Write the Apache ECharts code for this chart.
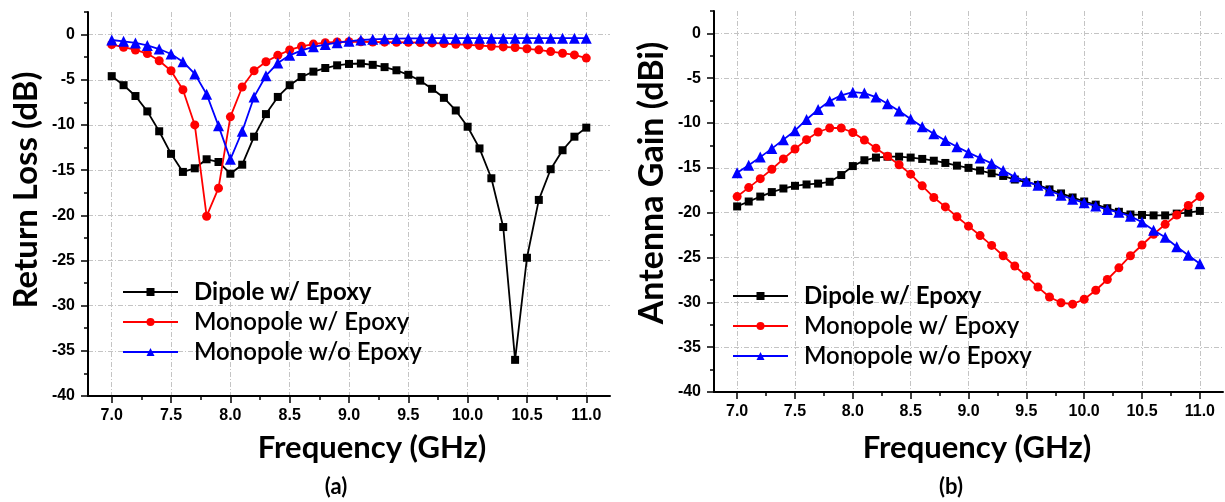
<!DOCTYPE html>
<html>
<head>
<meta charset="utf-8">
<script src="https://cdn.jsdelivr.net/npm/echarts@6/dist/echarts.min.js"></script>
<style>
  html, body { margin: 0; padding: 0; background: #fff; }
  #chart { width: 1225px; height: 502px; }
</style>
</head>
<body>
<div id="chart"></div>
<script>
// Frequency sweep (GHz)
const freq = [7.0, 7.1, 7.2, 7.3, 7.4, 7.5, 7.6, 7.7, 7.8, 7.9,
              8.0, 8.1, 8.2, 8.3, 8.4, 8.5, 8.6, 8.7, 8.8, 8.9,
              9.0, 9.1, 9.2, 9.3, 9.4, 9.5, 9.6, 9.7, 9.8, 9.9,
              10.0, 10.1, 10.2, 10.3, 10.4, 10.5, 10.6, 10.7, 10.8, 10.9, 11.0];

const seriesNames = ['Dipole w/ Epoxy', 'Monopole w/ Epoxy', 'Monopole w/o Epoxy'];

// (a) Return loss (dB)
const rlDipole = [-4.6, -5.6, -6.8, -8.5, -10.7, -13.2, -15.2, -14.8, -13.8, -14.1,
                  -15.4, -14.4, -11.3, -8.8, -6.9, -5.6, -4.7, -4.1, -3.7, -3.4,
                  -3.25, -3.2, -3.35, -3.6, -3.95, -4.45, -5.1, -6.0, -7.0, -8.4,
                  -10.2, -12.6, -15.9, -21.3, -36.0, -24.7, -18.3, -14.9, -12.8, -11.3, -10.3];
const rlMonoEpoxy = [-1.1, -1.4, -1.7, -2.1, -2.9, -4.0, -6.1, -10.0, -20.1, -17.0,
                     -9.1, -5.8, -4.0, -3.0, -2.3, -1.7, -1.3, -1.05, -0.9, -0.82,
                     -0.78, -0.8, -0.82, -0.84, -0.85, -0.86, -0.88, -0.92, -1.0, -1.07,
                     -1.14, -1.21, -1.3, -1.36, -1.43, -1.57, -1.69, -1.88, -2.06, -2.25, -2.6];
const rlMonoNoEpoxy = [-0.6, -0.75, -0.92, -1.2, -1.6, -2.15, -3.0, -4.35, -6.6, -10.1,
                       -13.8, -10.7, -6.9, -4.55, -3.15, -2.3, -1.75, -1.35, -1.1, -0.9,
                       -0.75, -0.6, -0.52, -0.47, -0.44, -0.42, -0.41, -0.4, -0.4, -0.4,
                       -0.4, -0.4, -0.4, -0.4, -0.4, -0.4, -0.4, -0.4, -0.4, -0.4, -0.4];

// (b) Antenna gain (dBi)
const gDipole = [-19.3, -18.75, -18.2, -17.7, -17.3, -17.0, -16.85, -16.75, -16.55, -15.8,
                 -14.8, -14.15, -13.85, -13.75, -13.75, -13.85, -14.0, -14.2, -14.45, -14.75,
                 -15.0, -15.3, -15.6, -15.9, -16.3, -16.6, -16.9, -17.4, -17.85, -18.3,
                 -18.75, -19.1, -19.5, -19.9, -20.2, -20.25, -20.3, -20.3, -20.1, -20.0, -19.8];
const gMonoEpoxy = [-18.2, -17.2, -16.2, -15.15, -14.0, -12.9, -11.85, -11.0, -10.55, -10.55,
                    -11.05, -11.9, -12.8, -13.7, -14.65, -15.7, -17.0, -18.3, -19.35, -20.45,
                    -21.5, -22.55, -23.65, -24.8, -25.95, -27.1, -28.3, -29.4, -30.05, -30.2,
                    -29.65, -28.65, -27.45, -26.15, -24.8, -23.6, -22.4, -21.3, -20.25, -19.2, -18.2];
const gMonoNoEpoxy = [-15.55, -14.7, -13.8, -12.85, -11.85, -10.85, -9.6, -8.5, -7.55, -6.9,
                      -6.55, -6.65, -7.1, -7.85, -8.65, -9.55, -10.4, -11.2, -11.95, -12.65,
                      -13.3, -13.9, -14.5, -15.3, -16.0, -16.5, -16.95, -17.55, -18.05, -18.5,
                      -18.9, -19.25, -19.65, -19.95, -20.4, -21.05, -21.95, -22.75, -23.8, -24.75, -25.7];

// Tick positions
const xMajorTicks = [7.0, 7.5, 8.0, 8.5, 9.0, 9.5, 10.0, 10.5, 11.0];
const xMinorTicks = [7.25, 7.75, 8.25, 8.75, 9.25, 9.75, 10.25, 10.75];
const yMajorTicks = [-40, -35, -30, -25, -20, -15, -10, -5, 0];
const yMinorTicks = [-37.5, -32.5, -27.5, -22.5, -17.5, -12.5, -7.5, -2.5, 2.5];

const X_MIN = 6.8, X_MAX = 11.2, Y_MIN = -40, Y_MAX = 2.5;

const tickFont = { fontFamily: 'Liberation Sans', fontWeight: 'bold', fontSize: 16, color: '#000' };
const gridLine = { show: true, lineStyle: { color: '#c4c4c4', width: 1, type: [5, 2, 1, 2] } };

function xAxes(g) {
  return [
    {
      type: 'value', gridIndex: g, position: 'bottom', min: X_MIN, max: X_MAX,
      axisLine: { show: true, onZero: false, lineStyle: { color: '#000', width: 2 } },
      axisTick: { show: true, inside: false, length: 7, customValues: xMajorTicks, lineStyle: { color: '#000', width: 1.5 } },
      axisLabel: Object.assign({ customValues: xMajorTicks, margin: 12, formatter: v => v.toFixed(1) }, tickFont),
      splitLine: gridLine
    },
    {
      type: 'value', gridIndex: g, position: 'bottom', min: X_MIN, max: X_MAX,
      axisLine: { show: false, onZero: false },
      axisTick: { show: true, inside: false, length: 4, customValues: xMinorTicks, lineStyle: { color: '#000', width: 1.5 } },
      axisLabel: { show: false },
      splitLine: { show: false }
    }
  ];
}

function yAxes(g) {
  return [
    {
      type: 'value', gridIndex: g, position: 'left', min: Y_MIN, max: Y_MAX,
      axisLine: { show: true, onZero: false, lineStyle: { color: '#000', width: 2 } },
      axisTick: { show: true, inside: false, length: 7, customValues: yMajorTicks, lineStyle: { color: '#000', width: 1.5 } },
      axisLabel: Object.assign({ customValues: yMajorTicks, margin: 13 }, tickFont),
      splitLine: gridLine
    },
    {
      type: 'value', gridIndex: g, position: 'left', min: Y_MIN, max: Y_MAX,
      axisLine: { show: false, onZero: false },
      axisTick: { show: true, inside: false, length: 4, customValues: yMinorTicks, lineStyle: { color: '#000', width: 1.5 } },
      axisLabel: { show: false },
      splitLine: { show: false }
    }
  ];
}

const styles = [
  { color: '#000000', symbol: 'rect', size: 8 },
  { color: '#ff0000', symbol: 'circle', size: 9 },
  { color: '#0000ff', symbol: 'triangle', size: 11 }
];

function makeSeries(axisIndex, valueLists) {
  return valueLists.map((vals, i) => ({
    type: 'line',
    name: seriesNames[i],
    xAxisIndex: axisIndex,
    yAxisIndex: axisIndex,
    data: freq.map((f, k) => [f, vals[k]]),
    symbol: styles[i].symbol,
    symbolSize: styles[i].size,
    showSymbol: true,
    color: styles[i].color,
    lineStyle: { color: styles[i].color, width: 1.8 },
    itemStyle: { color: styles[i].color },
    z: 2 + i,
    animation: false
  }));
}

function legendAt(left, top) {
  return {
    data: seriesNames,
    orient: 'vertical',
    left: left, top: top,
    padding: 0,
    itemWidth: 55, itemHeight: 10, itemGap: 6,
    selectedMode: false,
    formatter: name => (name === 'Dipole w/ Epoxy' ? '{b|' + name + '}' : '{n|' + name + '}'),
    textStyle: {
      color: '#000',
      rich: {
        b: { fontFamily: 'Lato', fontWeight: 'bold', fontSize: 24, lineHeight: 24, padding: [0, 0, 0, 11], color: '#000' },
        n: { fontFamily: 'Lato', fontWeight: 600, fontSize: 24, lineHeight: 24, padding: [0, 0, 0, 11], color: '#000' }
      }
    }
  };
}

function label(text, x, y, size, rotate) {
  return {
    type: 'text', x: x, y: y, rotation: rotate ? Math.PI / 2 : 0,
    style: {
      text: text, fill: '#000',
      font: 'bold ' + size + 'px Lato',
      textAlign: 'center', textVerticalAlign: 'middle'
    }
  };
}

const chart = echarts.init(document.getElementById('chart'), null, { renderer: 'canvas' });
chart.setOption({
  backgroundColor: '#fff',
  animation: false,
  grid: [
    { left: 88, right: 615, top: 12, bottom: 106 },
    { left: 714, right: 2, top: 11, bottom: 110 }
  ],
  xAxis: xAxes(0).concat(xAxes(1)),
  yAxis: yAxes(0).concat(yAxes(1)),
  legend: [legendAt(122, 280), legendAt(732, 284)],
  series: makeSeries(0, [rlDipole, rlMonoEpoxy, rlMonoNoEpoxy])
    .concat(makeSeries(2, [gDipole, gMonoEpoxy, gMonoNoEpoxy])),
  graphic: [
    label('Return Loss (dB)', 26, 190, 33, true),
    label('Frequency (GHz)', 372, 448, 31, false),
    label('(a)', 336, 487, 22, false),
    label('Antenna Gain (dBi)', 652, 183, 34, true),
    label('Frequency (GHz)', 977, 448, 31, false),
    label('(b)', 951, 487, 22, false)
  ]
});
</script>
</body>
</html>
